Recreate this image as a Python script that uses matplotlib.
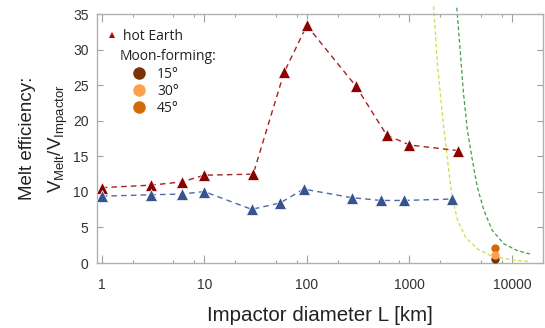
import matplotlib
matplotlib.use('Agg')
import matplotlib.pyplot as plt
from matplotlib.lines import Line2D
from matplotlib.ticker import FixedLocator, FuncFormatter

plt.rcParams['font.family'] = ['Liberation Sans', 'DejaVu Sans']
plt.rcParams['mathtext.fontset'] = 'custom'
plt.rcParams['mathtext.rm'] = 'Liberation Sans'
plt.rcParams['mathtext.it'] = 'Liberation Sans:italic'

# hot Earth (red) and the second series (blue)
hot_L = [1, 3, 6, 10, 30, 60, 100, 300, 600, 1000, 3000]
hot_eff = [10.6, 10.95, 11.4, 12.35, 12.5, 26.8, 33.4, 24.9, 18.0, 16.6, 15.8]
cold_L = [1, 3, 6, 10, 29, 55, 93, 273, 525, 883, 2590]
cold_eff = [9.4, 9.6, 9.7, 10.05, 7.55, 8.45, 10.4, 9.2, 8.8, 8.8, 9.0]

# Moon-forming impacts
moon_L = 6780
moon_angles = ['15°', '30°', '45°']
moon_eff = [0.6, 1.2, 2.1]
moon_colors = ['#7a3306', '#fda24a', '#d2690a']

# dashed curves on the right
curve1_L = [1722, 1884, 2105, 2354, 2575, 2946, 3540, 4590, 6180, 9660, 15070]
curve1_eff = [36.1, 27.7, 20.6, 14.5, 9.8, 6.0, 3.6, 2.0, 1.06, 0.45, 0.2]
curve2_L = [2897, 3125, 3366, 3675, 4110, 4590, 5330, 6420, 8340, 11200, 15660]
curve2_eff = [35.9, 30.0, 23.9, 18.7, 14.5, 10.7, 7.4, 4.6, 2.7, 1.77, 1.2]

xticks = [1, 10, 100, 1000, 10000]

fig = plt.figure(figsize=(5.45, 3.28), dpi=100)
ax = fig.add_axes([0.178, 0.198, 0.818, 0.759])

ax.plot(curve1_L, curve1_eff, '--', color='#c8e040', lw=0.9, dashes=(3, 2), clip_on=False, zorder=2)
ax.plot(curve2_L, curve2_eff, '--', color='#3f9f3f', lw=0.9, dashes=(3, 2), clip_on=False, zorder=2)

ax.plot(hot_L, hot_eff, '--', color='#a82020', lw=1.0, dashes=(4, 3), zorder=3)
ax.plot(hot_L, hot_eff, '^', color='#8b0000', ms=9, mec='white', mew=0.5, zorder=4, ls='none')
ax.plot(cold_L, cold_eff, '--', color='#4a6aac', lw=1.0, dashes=(4, 3), zorder=3)
ax.plot(cold_L, cold_eff, '^', color='#36528f', ms=9, mec='white', mew=0.5, zorder=4, ls='none')

moon_handles = {}
for i in [0, 2, 1]:
    h, = ax.plot([moon_L], [moon_eff[i]], 'o', color=moon_colors[i], ms=6, mew=0,
                 clip_on=False, zorder=5)
    moon_handles[i] = h

ax.set_xscale('log')
ax.set_xlim(0.9, 20000)
ax.set_ylim(0, 35)

ax.xaxis.set_major_locator(FixedLocator(xticks))
ax.xaxis.set_major_formatter(FuncFormatter(lambda v, p: '%d' % v))
minors = [m * 10 ** k for k in range(0, 5) for m in (2, 5, 8)]
ax.xaxis.set_minor_locator(FixedLocator(minors))
ax.xaxis.set_minor_formatter(FuncFormatter(lambda v, p: ''))
ax.set_yticks(range(0, 36, 5))

for s in ax.spines.values():
    s.set_color('#b0b0b0')
    s.set_linewidth(1.0)
ax.tick_params(which='both', direction='in', top=True, right=True, color='#a0a0a0',
               labelcolor='#333333', labelsize=10)
ax.tick_params(axis='x', which='major', length=5.5, width=0.8, pad=11)
ax.tick_params(axis='x', which='minor', length=2.5, width=0.8)
ax.tick_params(axis='y', which='major', length=4, width=0.8, pad=6)

ax.set_xlabel('Impactor diameter L [km]', fontsize=14.8, color='#222222', labelpad=10)
ax.set_ylabel('Melt efficiency:\n$\\mathrm{V_{Melt}/V_{Impactor}}$', fontsize=13.5,
              color='#222222', labelpad=2, linespacing=1.7)

# legends
leg_font = {'family': 'Open Sans', 'size': 10}
h1 = Line2D([], [], marker='^', color='#b00000', ls='none', ms=5, mew=0)
leg1 = ax.legend([h1], ['hot Earth'], loc='upper left', bbox_to_anchor=(0.017, 0.94),
                 frameon=False, prop=leg_font, handlelength=1.0, handletextpad=0.3,
                 borderpad=0, borderaxespad=0)
ax.add_artist(leg1)
leg2 = ax.legend([moon_handles[0], moon_handles[1], moon_handles[2]], moon_angles,
                 title='Moon-forming:', title_fontproperties=leg_font, alignment='left',
                 loc='upper left', bbox_to_anchor=(0.05, 0.858), frameon=False, prop=leg_font,
                 handlelength=2.9, handletextpad=-0.19, markerscale=1.5, labelspacing=0.12,
                 borderpad=0, borderaxespad=0)
leg2._legend_box.sep = 2
for t in leg1.get_texts() + leg2.get_texts() + [leg2.get_title()]:
    t.set_color('#222222')

fig.savefig('out.png', dpi=100)
